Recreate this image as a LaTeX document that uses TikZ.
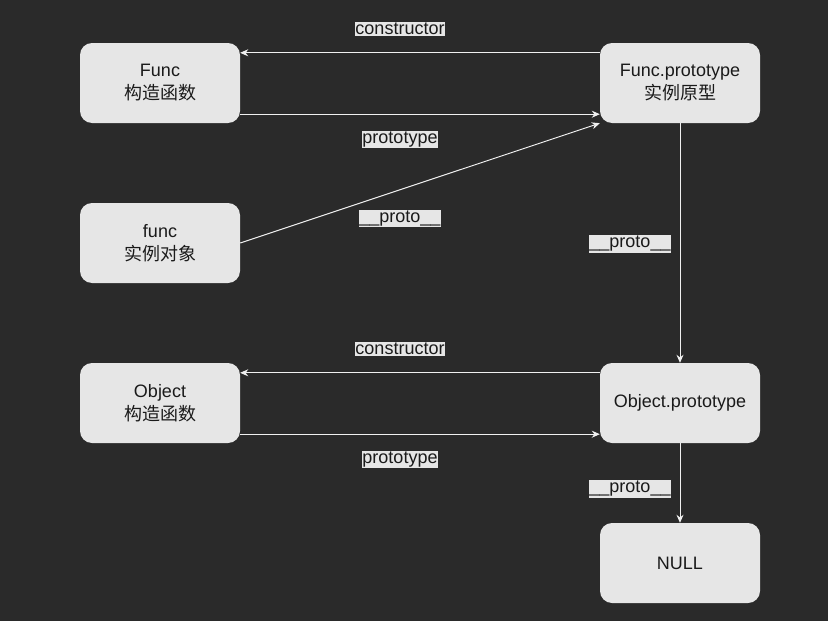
\documentclass[tikz,border=0pt]{standalone}
\usepackage{fontspec}
\setmainfont{Liberation Sans}
\newfontfamily\cjk{Noto Sans CJK SC}
\usetikzlibrary{arrows.meta}
\definecolor{bgdark}{HTML}{2A2A2A}
\definecolor{boxgray}{HTML}{E6E6E6}
\definecolor{inkdark}{HTML}{1A1A1A}
\definecolor{linewhite}{HTML}{F0F0F0}
\tikzset{
  objbox/.style={fill=boxgray, rounded corners=12pt, minimum width=160pt,
    minimum height=80pt, align=center, text=inkdark,
    font=\fontsize{18}{23}\selectfont},
  lbl/.style={fill=boxgray, text=inkdark, inner xsep=0.5pt, inner ysep=1pt,
    font=\fontsize{18}{20}\selectfont},
  link/.style={draw=linewhite, line width=1pt,
    -{Stealth[length=8pt,width=7pt]}}
}
\begin{document}
\begin{tikzpicture}[x=1pt,y=-1pt]
  \fill[bgdark] (0,0) rectangle (828,621);
  \node[objbox] (func) at (160,83) {Func\\{\cjk 构造函数}};
  \node[objbox] (funcproto) at (680,83) {Func.prototype\\{\cjk 实例原型}};
  \node[objbox] (inst) at (160,243) {func\\{\cjk 实例对象}};
  \node[objbox] (object) at (160,403) {Object\\{\cjk 构造函数}};
  \node[objbox] (objproto) at (680,403) {Object.prototype};
  \node[objbox] (null) at (680,563) {NULL};
  \begin{scope}[link]
    \draw ([yshift=-10pt]funcproto.north west) to
      node[lbl, midway, xshift=-20pt, yshift=24pt] {constructor} ([yshift=-10pt]func.north east);
    \draw ([yshift=9pt]func.south east) to
      node[lbl, midway, xshift=-20pt, yshift=-25pt] {prototype} ([yshift=9pt]funcproto.south west);
    \draw (inst.east) to
      node[lbl, pos=0.444, yshift=-29pt] {\_\_proto\_\_} (funcproto.south west);
    \draw (funcproto.south) to
      node[lbl, midway, xshift=-50pt, yshift=-1pt] {\_\_proto\_\_} (objproto.north);
    \draw ([yshift=-10pt]objproto.north west) to
      node[lbl, midway, xshift=-20pt, yshift=24pt] {constructor} ([yshift=-10pt]object.north east);
    \draw ([yshift=9pt]object.south east) to
      node[lbl, midway, xshift=-20pt, yshift=-25pt] {prototype} ([yshift=9pt]objproto.south west);
    \draw (objproto.south) to
      node[lbl, midway, xshift=-50pt, yshift=-6pt] {\_\_proto\_\_} (null.north);
  \end{scope}
\end{tikzpicture}
\end{document}
